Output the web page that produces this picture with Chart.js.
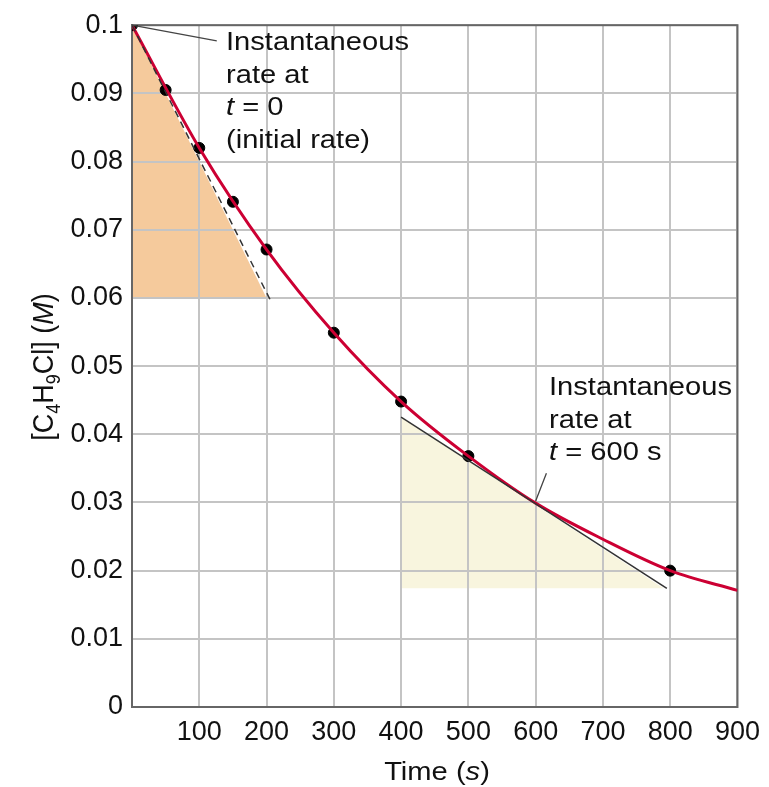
<!DOCTYPE html>
<html lang="en">
<head>
    <meta charset="UTF-8">
    <title>Rate of reaction</title>
    <style>
        html, body { margin: 0; padding: 0; background: #fff; }
        #wrap { width: 769px; height: 787px; }
    </style>
    <script src="https://cdn.jsdelivr.net/npm/chart.js"></script>
</head>
<body>
    <div id="wrap"><canvas id="myChart" width="769" height="787"></canvas></div>

    <script>
        // measured concentrations (s, M)
        const timePoints = [0, 50, 100, 150, 200, 300, 400, 500, 800];
        const concPoints = [0.1, 0.0905, 0.0820, 0.0741, 0.0671, 0.0549, 0.0448, 0.0368, 0.0200];

        // smooth curve
        const curveTime = [0, 100, 200, 300, 400, 500, 600, 700, 800, 900];
        const curveConc = [0.1, 0.0820, 0.0671, 0.0549, 0.0448, 0.0368, 0.0299, 0.0246, 0.0200, 0.0171];

        // tangent at t = 0 (dashed) and at t = 600 s
        const tangent0Time = [0, 205];
        const tangent0Conc = [0.1, 0.0598];
        const tangent600Time = [400, 795];
        const tangent600Conc = [0.0425, 0.0174];

        // shaded triangles under the tangents
        const shade0Time = [0, 0, 200];
        const shade0Conc = [0.1, 0.06, 0.06];
        const shade600Time = [400, 400, 790];
        const shade600Conc = [0.0425, 0.0174, 0.0174];

        const xTicks = [100, 200, 300, 400, 500, 600, 700, 800, 900];

        const FONT = "'Liberation Sans', Arial, Helvetica, sans-serif";
        const toXY = (xs, ys) => xs.map((x, i) => ({ x: x, y: ys[i] }));

        // draw text slightly stretched sideways like the original scan
        function wideText(ctx, txt, x, y, stretch) {
            ctx.save();
            ctx.translate(x, y);
            ctx.scale(stretch, 1);
            ctx.fillText(txt, 0, 0);
            ctx.restore();
            return ctx.measureText(txt).width * stretch;
        }

        const extras = {
            id: 'extras',
            beforeDraw(chart) {
                const { ctx, scales: { x, y } } = chart;
                const poly = (xs, ys, color) => {
                    ctx.beginPath();
                    xs.forEach((v, i) => {
                        const px = x.getPixelForValue(v), py = y.getPixelForValue(ys[i]);
                        if (i === 0) ctx.moveTo(px, py); else ctx.lineTo(px, py);
                    });
                    ctx.closePath();
                    ctx.fillStyle = color;
                    ctx.fill();
                };
                ctx.save();
                poly(shade0Time, shade0Conc, 'rgb(245, 202, 156)');
                poly(shade600Time, shade600Conc, 'rgb(248, 245, 222)');
                ctx.restore();
            },
            beforeDatasetsDraw(chart) {
                const { ctx, chartArea: a } = chart;
                ctx.save();
                ctx.strokeStyle = '#666';
                ctx.lineWidth = 2;
                ctx.strokeRect(a.left, a.top, a.right - a.left, a.bottom - a.top);
                ctx.restore();
            },
            afterDraw(chart) {
                const { ctx, scales: { x, y } } = chart;
                const S = 1.12;
                ctx.save();

                // leader lines
                ctx.strokeStyle = '#444';
                ctx.lineWidth = 1.3;
                ctx.beginPath();
                ctx.moveTo(x.getPixelForValue(0), y.getPixelForValue(0.1));
                ctx.lineTo(x.getPixelForValue(126), y.getPixelForValue(0.0977));
                ctx.moveTo(x.getPixelForValue(600), y.getPixelForValue(0.0302));
                ctx.lineTo(x.getPixelForValue(616), y.getPixelForValue(0.0343));
                ctx.stroke();

                // annotations
                ctx.fillStyle = '#111';
                ctx.textBaseline = 'alphabetic';
                ctx.textAlign = 'left';
                const reg = '26px ' + FONT, ital = 'italic 26px ' + FONT;
                const block = (lx, ly, lines) => {
                    lines.forEach((parts, i) => {
                        let cx = lx;
                        parts.forEach(p => {
                            ctx.font = p[1] ? ital : reg;
                            cx += wideText(ctx, p[0], cx, ly + i * 32.5, S);
                        });
                    });
                };
                block(226, 50, [[['Instantaneous']], [['rate at']], [['t', 1], [' = 0']], [['(initial rate)']]]);
                block(549, 395, [[['Instantaneous']], [['rate at']], [['t', 1], [' = 600 s']]]);

                // x title: Time (s)
                const xParts = [['Time (', 0], ['s', 1], [')', 0]];
                let w = 0;
                xParts.forEach(p => { ctx.font = p[1] ? ital : reg; w += ctx.measureText(p[0]).width * S; });
                let cx = 437 - w / 2;
                xParts.forEach(p => { ctx.font = p[1] ? ital : reg; cx += wideText(ctx, p[0], cx, 780, S); });

                // y title: [C4H9Cl] (M), rotated
                const big = '27px ' + FONT, bigI = 'italic 27px ' + FONT, sub = '18px ' + FONT;
                const yParts = [['[C', big, 0], ['4', sub, 6], ['H', big, 0], ['9', sub, 6], ['Cl] (', big, 0], ['M', bigI, 0], [')', big, 0]];
                let tw = 0;
                yParts.forEach(p => { ctx.font = p[1]; tw += ctx.measureText(p[0]).width; });
                ctx.translate(53, 367);
                ctx.rotate(-Math.PI / 2);
                ctx.scale(1, S);
                let tx = -tw / 2;
                yParts.forEach(p => {
                    ctx.font = p[1];
                    ctx.fillText(p[0], tx, p[2]);
                    tx += ctx.measureText(p[0]).width;
                });
                ctx.restore();
            }
        };

        const ctx = document.getElementById('myChart').getContext('2d');
        const myChart = new Chart(ctx, {
            type: 'scatter',
            data: {
                datasets: [
                    {
                        label: 'tangent t=0',
                        data: toXY(tangent0Time, tangent0Conc),
                        showLine: true,
                        borderColor: '#333',
                        borderWidth: 1.5,
                        borderDash: [7, 5],
                        pointRadius: 0
                    },
                    {
                        label: 'tangent t=600',
                        data: toXY(tangent600Time, tangent600Conc),
                        showLine: true,
                        borderColor: '#333',
                        borderWidth: 1.5,
                        pointRadius: 0
                    },
                    {
                        label: 'curve',
                        data: toXY(curveTime, curveConc),
                        showLine: true,
                        borderColor: 'rgb(204, 0, 51)',
                        borderWidth: 3,
                        cubicInterpolationMode: 'monotone',
                        pointRadius: 0
                    },
                    {
                        label: 'measured',
                        data: toXY(timePoints, concPoints),
                        showLine: false,
                        pointRadius: 5.5,
                        backgroundColor: '#000',
                        borderColor: '#000'
                    }
                ]
            },
            options: {
                responsive: false,
                animation: false,
                layout: { padding: { top: 22, right: 31, bottom: 0, left: 0 } },
                plugins: { legend: { display: false }, tooltip: { enabled: false } },
                scales: {
                    x: {
                        type: 'linear',
                        min: 0,
                        max: 900,
                        afterFit: s => { s.height = 80; },
                        afterBuildTicks: s => { s.ticks = xTicks.map(v => ({ value: v })); },
                        grid: { color: '#c4c4c4', lineWidth: 2, drawTicks: false },
                        border: { color: '#555', width: 2 },
                        ticks: {
                            padding: 9,
                            color: '#111',
                            maxRotation: 0,
                            font: { family: FONT, size: 27 },
                            callback: v => String(v)
                        }
                    },
                    y: {
                        min: 0,
                        max: 0.1,
                        afterFit: s => { s.width = 132; },
                        grid: { color: '#c4c4c4', lineWidth: 2, drawTicks: false },
                        border: { color: '#555', width: 2 },
                        ticks: {
                            stepSize: 0.01,
                            padding: 9,
                            color: '#111',
                            font: { family: FONT, size: 27 },
                            callback: v => String(Number(v.toFixed(2)))
                        }
                    }
                }
            },
            plugins: [extras]
        });
    </script>
</body>
</html>
